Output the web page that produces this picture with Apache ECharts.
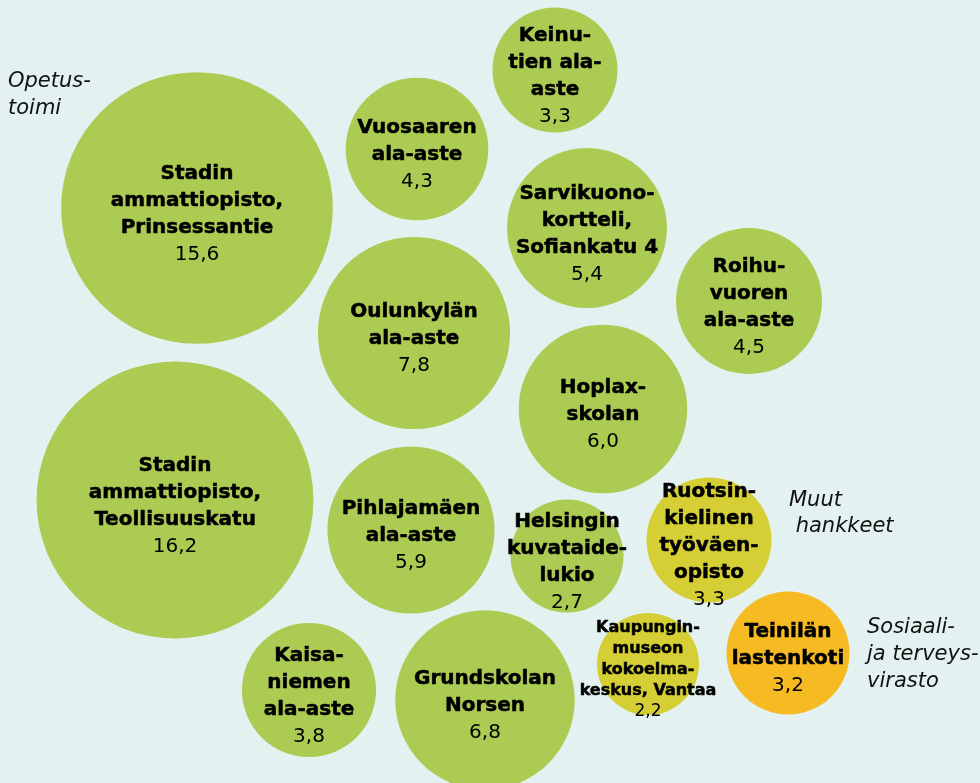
<!DOCTYPE html>
<html>
<head>
<meta charset="utf-8">
<script src="https://cdn.jsdelivr.net/npm/echarts@6/dist/echarts.min.js"></script>
<style>
  html, body { margin: 0; padding: 0; background: #e4f1f1; }
  #chart { width: 980px; height: 783px; }
</style>
</head>
<body>
<div id="chart"></div>
<script>
// hankkeet (nimi rivitettynä), arvo ja ryhmä
const names = [
  'Stadin\nammattiopisto,\nPrinsessantie',
  'Stadin\nammattiopisto,\nTeollisuuskatu',
  'Keinu-\ntien ala-\naste',
  'Vuosaaren\nala-aste',
  'Sarvikuono-\nkortteli,\nSofiankatu 4',
  'Roihu-\nvuoren\nala-aste',
  'Oulunkylän\nala-aste',
  'Hoplax-\nskolan',
  'Pihlajamäen\nala-aste',
  'Helsingin\nkuvataide-\nlukio',
  'Ruotsin-\nkielinen\ntyöväen-\nopisto',
  'Kaupungin-\nmuseon\nkokoelma-\nkeskus, Vantaa',
  'Teinilän\nlastenkoti',
  'Kaisa-\nniemen\nala-aste',
  'Grundskolan\nNorsen'
]
const values = [15.6, 16.2, 3.3, 4.3, 5.4, 4.5, 7.8, 6.0, 5.9, 2.7, 3.3, 2.2, 3.2, 3.8, 6.8]
const groups = ['opetus', 'opetus', 'opetus', 'opetus', 'opetus', 'opetus', 'opetus', 'opetus',
  'opetus', 'opetus', 'muut', 'muut', 'sote', 'opetus', 'opetus']

// kuplien sijainnit (x,y) asettelussa
const cx = [197, 175, 555, 417, 587, 749, 414, 603, 411, 567, 709, 648, 788, 309, 485]
const cy = [208, 500, 70, 149, 228, 301, 333, 409, 530, 556, 540, 664, 653, 690, 700]

// ryhmien selitteet
const groupLabels = ['Opetus-\ntoimi', 'Muut\n hankkeet', 'Sosiaali-\nja terveys-\nvirasto']

const colors = { opetus: '#accb52', muut: '#d5cf35', sote: '#f6bb22' }
const scale = 34.4
const fontFamily = '"DejaVu Sans", sans-serif'

const fmt = v => v.toFixed(1).replace('.', ',')

const data = values.map((v, i) => {
  const small = v < 2.5
  return {
    value: [cx[i], cy[i], v],
    symbolSize: 2 * scale * Math.sqrt(v),
    itemStyle: { color: colors[groups[i]], opacity: 1 },
    label: {
      formatter: '{n|' + names[i] + '}\n{v|' + fmt(v) + '}',
      rich: {
        n: {
          fontSize: small ? 16 : 20, fontWeight: 'bold', lineHeight: small ? 21 : 27,
          color: '#000', fontFamily: fontFamily, align: 'center',
          textBorderColor: '#000', textBorderWidth: 0.5
        },
        v: { fontSize: small ? 17 : 20, lineHeight: small ? 21 : 27, color: '#000', fontFamily: fontFamily, align: 'center' }
      }
    }
  }
})

const chart = echarts.init(document.getElementById('chart'))
chart.setOption({
  backgroundColor: '#e4f1f1',
  animation: false,
  grid: { left: 0, right: 0, top: 0, bottom: 0 },
  xAxis: { type: 'value', min: 0, max: 980, show: false },
  yAxis: { type: 'value', min: 0, max: 783, inverse: true, show: false },
  graphic: [
    { type: 'text', left: 8, top: 68, style: { text: groupLabels[0], font: 'italic 21px ' + fontFamily, lineHeight: 27, fill: '#111' } },
    { type: 'text', left: 789, top: 488, style: { text: groupLabels[1], font: 'italic 21px ' + fontFamily, lineHeight: 26, fill: '#111' } },
    { type: 'text', left: 867, top: 614, style: { text: groupLabels[2], font: 'italic 21px ' + fontFamily, lineHeight: 27, fill: '#111' } }
  ],
  series: [{
    type: 'scatter',
    symbol: 'circle',
    clip: false,
    data: data,
    label: { show: true, position: 'inside', offset: [0, 6] },
    emphasis: { disabled: true }
  }]
})
</script>
</body>
</html>
